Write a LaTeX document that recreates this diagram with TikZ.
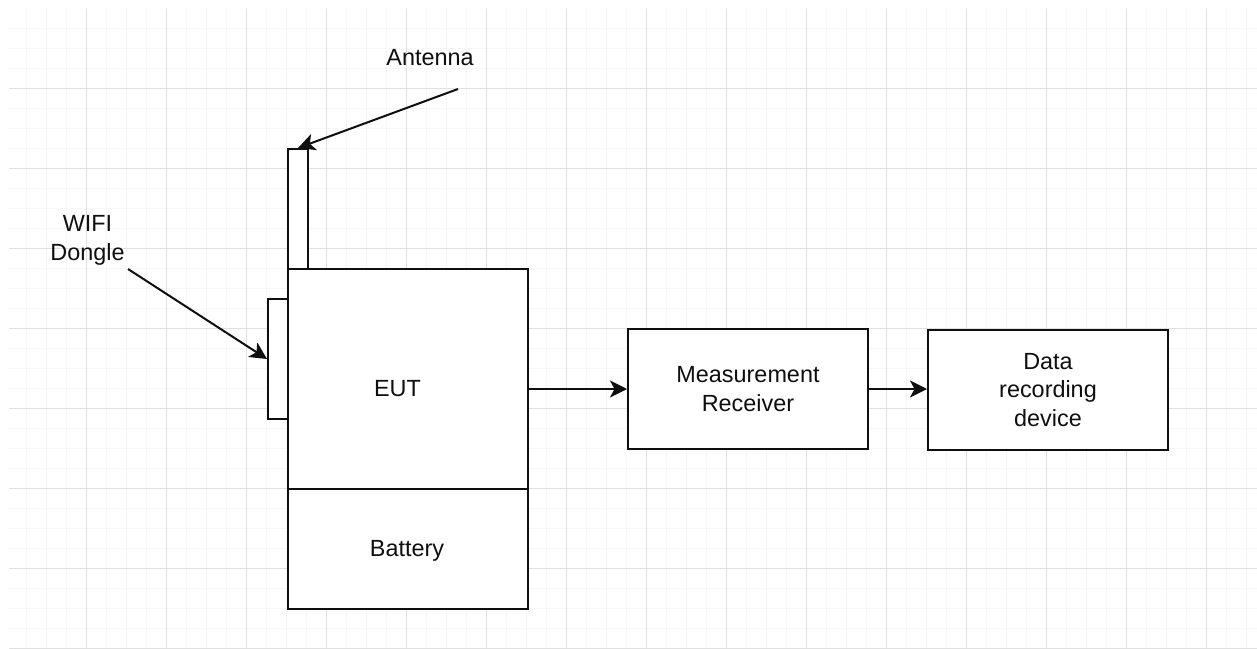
\documentclass[tikz,border=0pt]{standalone}
\usepackage{fontspec}
\setmainfont{Liberation Sans}
\usetikzlibrary{arrows.meta}
\definecolor{gridminor}{RGB}{246,246,246}
\definecolor{gridmajor}{RGB}{224,224,224}
\definecolor{inkc}{RGB}{15,15,15}
\begin{document}
\begin{tikzpicture}[x=1pt,y=-1pt,
  box/.style={draw=inkc, line width=2pt, fill=white, inner sep=0pt, align=center, text=inkc,
    font=\fontsize{23.4}{28.6}\selectfont},
  lbl/.style={inner sep=0pt, align=center, text=inkc, font=\fontsize{23.4}{28.4}\selectfont},
  conn/.style={draw=inkc, line width=2pt, -{Stealth[length=17pt 0,width=17pt 0,inset=4.5pt 0,fill=inkc]}},
  minorline/.style={draw=gridminor, line width=1pt},
  majorline/.style={draw=gridmajor, line width=1pt},
]
\useasboundingbox (0,0) rectangle (1257,648);
\fill[white] (0,0) rectangle (1257,648);
% grid
\foreach \x in {26.5,46.5,...,1250} \path[minorline] (\x,9) -- (\x,648);
\foreach \y in {28,48,...,650} \path[minorline] (9,\y) -- (1257,\y);
\foreach \x in {86.5,166.5,...,1250} \path[majorline] (\x,9) -- (\x,648);
\foreach \y in {88,168,...,650} \path[majorline] (9,\y) -- (1257,\y);
% boxes
\node[box, minimum width=20pt, minimum height=120pt] (ant) at (298,209) {};
\node[box, minimum width=240pt, minimum height=220pt] (eut) at (408,379) {};
\node[box, minimum width=240pt, minimum height=120pt] (bat) at (408,549) {};
\node[box, minimum width=20pt, minimum height=120pt] (dongle) at (278,359) {};
\node[box, minimum width=240pt, minimum height=120pt] (mr) at (748,389) {Measurement\\Receiver};
\node[box, minimum width=240pt, minimum height=120pt] (drd) at (1048,390) {Data\\recording\\device};
% labels
\node[lbl, anchor=base] (eutlbl) at (397.5,396.7) {EUT};
\node[lbl, anchor=base] (batlbl) at (407,556.7) {Battery};
\node[lbl, anchor=base] (antlbl) at (430,65.7) {Antenna};
\node[lbl, anchor=base] (wifilbl) at (87.5,260) {WIFI\\Dongle};
% connectors
\coordinate (antsrc) at (458,89);
\coordinate (wifisrc) at (128,269);
\draw[conn] (antsrc) -- (ant.north);
\draw[conn] (wifisrc) -- (dongle.west);
\draw[conn] (eut.east |- mr.west) -- (mr.west);
\draw[conn] (mr.east) -- (drd.west |- mr.east);
\end{tikzpicture}
\end{document}
